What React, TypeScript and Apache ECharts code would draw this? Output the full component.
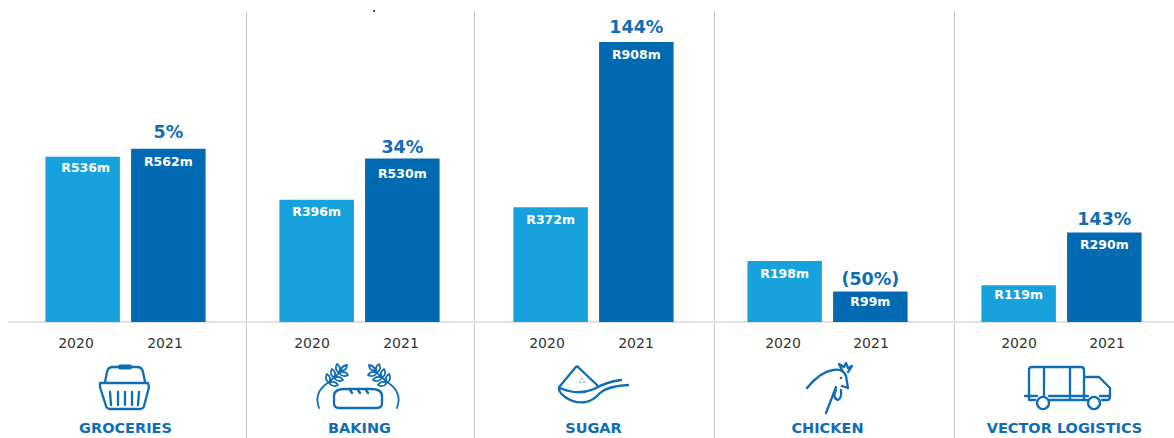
import React, { useEffect, useRef } from "react";
import * as echarts from "echarts";

// Segment results, R millions
const segments = ["GROCERIES", "BAKING", "SUGAR", "CHICKEN", "VECTOR LOGISTICS"];
const years = ["2020", "2021"];
const values2020 = [536, 396, 372, 198, 119];
const values2021 = [562, 530, 908, 99, 290];
const growth = ["5%", "34%", "144%", "(50%)", "143%"];

const LIGHT = "#17a2dd";
const DARK = "#0269b3";
const ACCENT = "#0e6db5";
const FONT = '"DejaVu Sans", Verdana, sans-serif';

// Shared vertical scale of the bars
const BASE_Y = 322;
const PX_PER_UNIT = 0.3084;
const Y_MAX = 1000;
const plotHeight = Y_MAX * PX_PER_UNIT;
const plotTop = BASE_Y - plotHeight;

// Horizontal centres of the year captions in each panel
const yearCentres = [
  [76, 165],
  [312, 401],
  [547, 636],
  [783, 871],
  [1019, 1107],
];
const dividerXs = [246.5, 474.5, 714.5, 954.5];

// Small per-label placement adjustments
const nudge2020 = [[3, -1], [0, 0], [0, 1], [0, 1], [0, -2]];
const nudge2021 = [[0, 1], [0, 3], [0, 1], [0, -1], [0, 0]];
const growthGap = [8, 3, 6, 3, 5];

const leaf = (x: number, y: number) =>
  `M${x} ${y} Q${x - 5} ${y - 4} ${x - 2} ${y - 9} Q${x + 3} ${y - 6} ${x} ${y} Z ` +
  `M${x} ${y} Q${x + 4} ${y + 5} ${x + 9} ${y + 2} Q${x + 6} ${y - 3} ${x} ${y} Z `;

const icons: Record<string, string> = {
  iconBasket:
    "M105 382 L107 372 Q108 367 113 367 L137 367 Q142 367 143 372 L145 382 " +
    "M100 383 L148 383 L149 387 L144 406 Q143 409 140 409 L110 409 Q107 409 106 406 L100 387 Z " +
    "M110 392 L111 405 M118 392 L118 405 M125 392 L125 405 M132 392 L132 405 M139 392 L138 405",
  iconBread:
    "M339 408 Q334 408 334 403 L334 396 Q334 389 345 389 L371 389 Q382 389 382 396 L382 403 Q382 408 377 408 Z " +
    "M350 390 L352 393 M358 390 L360 393 M366 390 L368 393",
  iconWheat:
    "M319 408 Q313 392 329 382 L338 374 " +
    leaf(329, 383) + leaf(334, 378) + leaf(339, 373) +
    "M341 371 Q341 366 347 365 Q347 370 341 371 Z",
  iconSugar:
    "M560 386 L575 368 Q577 365 579 368 L597 385 " +
    "M559 387 Q558 392 565 397 Q575 404 586 402 Q594 400 600 393 Q608 386 628 385 " +
    "M560 388 Q578 396 594 389 Q606 382 621 380",
  iconChicken:
    "M807 388 Q820 372 833 370 Q843 368 846 376 L848 388 L842 386 " +
    "M826 413 L836 387 M836 390 Q832 398 838 400 Q842 398 841 390 " +
    "M842 370 L839 364 L844 367 L846 363 L848 368 L852 366 L848 372",
  iconTruck:
    "M1035 400 L1029 400 L1029 370 Q1029 367 1032 367 L1081 367 Q1084 367 1084 370 L1084 400 " +
    "M1044 367 L1044 396 M1070 367 L1070 400 M1084 377 L1099 377 L1110 388 L1110 397 Q1110 400 1107 400 L1102 400 " +
    "M1025 396 L1037 396 M1049 396 L1088 396 M1100 396 L1110 396 M1050 400 L1087 400",
};

Object.entries(icons).forEach(([name, d]) => {
  echarts.graphic.registerShape(name, echarts.graphic.extendPath(d, {}));
});

const iconStyle = { fill: "none", stroke: ACCENT, lineWidth: 2.3, lineCap: "round", lineJoin: "round" };
const wheatStyle = { ...iconStyle, lineWidth: 1.8 };

const valueLabel = {
  show: true,
  position: "insideTop",
  distance: 5,
  formatter: (p: any) => `R${p.value}m`,
  color: "#ffffff",
  fontFamily: FONT,
  fontWeight: "bold",
  fontSize: 12.5,
};

const App = () => {
  const ref = useRef<HTMLDivElement>(null);

  useEffect(() => {
    const chart = echarts.init(ref.current!, null, { renderer: "svg" });

    const captionGrids = yearCentres.map(([a, b]) => ({
      left: a - (b - a) / 2,
      width: (b - a) * 2,
      top: plotTop,
      height: plotHeight,
    }));

    chart.setOption({
      animation: false,
      grid: [{ left: 8.5, width: 1170, top: plotTop, height: plotHeight }, ...captionGrids],
      xAxis: [
        {
          type: "category",
          data: segments,
          gridIndex: 0,
          axisLine: { lineStyle: { color: "#e2e2e2", width: 2 } },
          axisTick: { show: false },
          axisLabel: {
            interval: 0,
            margin: 98,
            color: ACCENT,
            fontFamily: FONT,
            fontWeight: "bold",
            fontSize: 14.5,
            formatter: (name: string, i: number) => (i === 4 ? `{shifted|${name}}` : name),
            rich: {
              shifted: {
                color: ACCENT,
                fontFamily: FONT,
                fontWeight: "bold",
                fontSize: 14.5,
                padding: [0, 0, 0, 6],
              },
            },
          },
        },
        ...captionGrids.map((_, i) => ({
          type: "category",
          data: years,
          gridIndex: i + 1,
          axisLine: { show: false },
          axisTick: { show: false },
          axisLabel: { interval: 0, margin: 14, color: "#333333", fontFamily: FONT, fontSize: 14 },
        })),
      ],
      yAxis: [
        { type: "value", min: 0, max: Y_MAX, show: false, gridIndex: 0 },
        ...captionGrids.map((_, i) => ({ type: "value", min: 0, max: Y_MAX, show: false, gridIndex: i + 1 })),
      ],
      series: [
        {
          name: "2020",
          type: "bar",
          data: values2020.map((value, i) => ({ value, label: { offset: nudge2020[i] } })),
          barWidth: 74.5,
          barGap: "15%",
          itemStyle: { color: LIGHT },
          label: valueLabel,
        },
        {
          name: "2021",
          type: "bar",
          stack: "latest",
          data: values2021.map((value, i) => ({ value, label: { offset: nudge2021[i] } })),
          barWidth: 74.5,
          itemStyle: { color: DARK },
          label: valueLabel,
        },
        {
          // Zero-height cap on the 2021 bar that carries the growth caption
          name: "growth",
          type: "bar",
          stack: "latest",
          data: growth.map((_, i) => ({ value: 0, label: { distance: growthGap[i] } })),
          barWidth: 74.5,
          itemStyle: { color: "transparent" },
          label: {
            show: true,
            position: "top",
            formatter: (p: any) => growth[p.dataIndex],
            color: ACCENT,
            fontFamily: FONT,
            fontWeight: "bold",
            fontSize: 17.5,
          },
        },
      ],
      graphic: [
        ...dividerXs.map((x) => ({
          type: "line",
          shape: { x1: x, y1: 11, x2: x, y2: 438 },
          style: { stroke: "#c9c9c9", lineWidth: 1 },
        })),
        { type: "circle", shape: { cx: 374, cy: 11, r: 1 }, style: { fill: "#222222" } },
        { type: "iconBasket", x: 0, y: 0, style: iconStyle },
        { type: "rect", shape: { x: 118, y: 364.5, width: 14, height: 5, r: 2 }, style: { fill: ACCENT } },
        { type: "iconBread", x: 0, y: 0, style: iconStyle },
        { type: "iconWheat", x: 0, y: 0, style: wheatStyle },
        { type: "iconWheat", x: 716, y: 0, scaleX: -1, style: wheatStyle },
        { type: "iconSugar", x: 0, y: 0, style: iconStyle },
        { type: "circle", shape: { cx: 582, cy: 379, r: 0.7 }, style: { fill: ACCENT } },
        { type: "circle", shape: { cx: 580, cy: 382, r: 0.7 }, style: { fill: ACCENT } },
        { type: "circle", shape: { cx: 584, cy: 382, r: 0.7 }, style: { fill: ACCENT } },
        { type: "iconChicken", x: 0, y: 0, style: iconStyle },
        { type: "circle", shape: { cx: 841, cy: 378, r: 1.3 }, style: { fill: ACCENT } },
        { type: "iconTruck", x: 0, y: 0, style: iconStyle },
        { type: "circle", shape: { cx: 1043, cy: 403, r: 6 }, style: { fill: "#ffffff", stroke: ACCENT, lineWidth: 2.3 } },
        { type: "circle", shape: { cx: 1094, cy: 403, r: 6 }, style: { fill: "#ffffff", stroke: ACCENT, lineWidth: 2.3 } },
      ],
    });

    return () => chart.dispose();
  }, []);

  // The canvas runs past the frame so the last panel keeps its full width
  return (
    <div
      style={{
        position: "fixed",
        left: 0,
        top: 0,
        width: 1174,
        height: 438,
        overflow: "hidden",
        background: "#ffffff",
      }}
    >
      <div ref={ref} style={{ width: 1190, height: 438 }} />
    </div>
  );
};

export default App;
